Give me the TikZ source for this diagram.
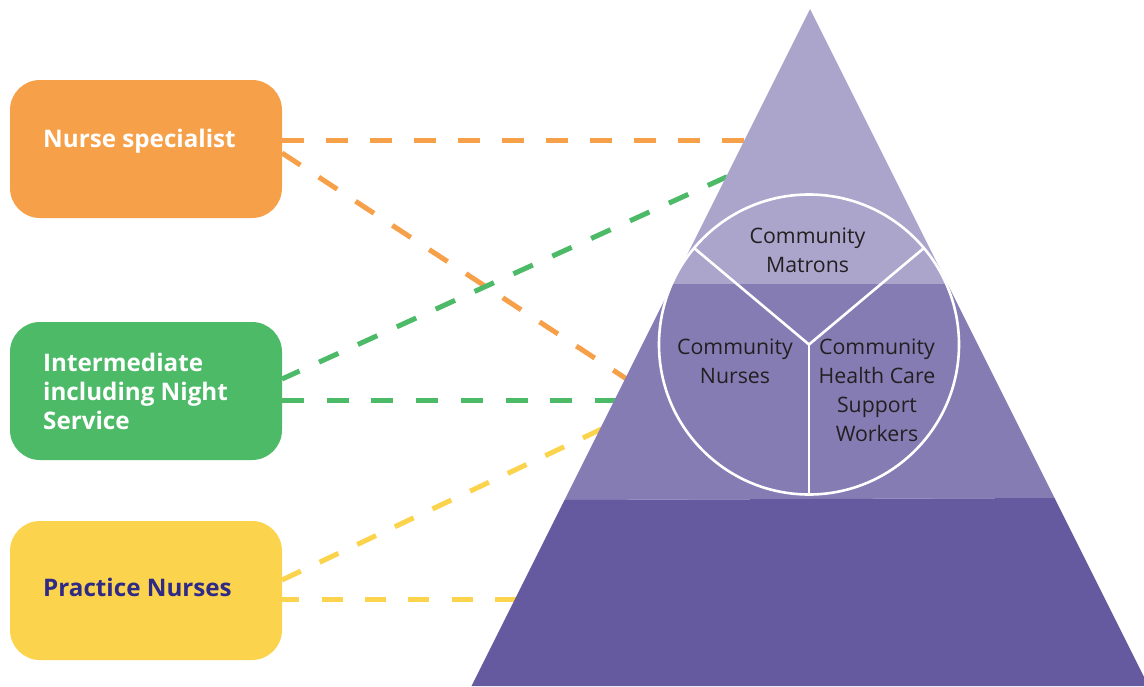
\documentclass[tikz,border=0pt]{standalone}
\usepackage{fontspec}
\setmainfont{Open Sans}
\definecolor{orangebox}{HTML}{F7A04A}
\definecolor{greenbox}{HTML}{4DBA68}
\definecolor{yellowbox}{HTML}{FCD34C}
\definecolor{darkblue}{HTML}{2E2A86}
\definecolor{bandtop}{HTML}{ABA5CC}
\definecolor{bandmid}{HTML}{857CB4}
\definecolor{bandlow}{HTML}{655A9F}
\definecolor{inktext}{HTML}{231F20}
\tikzset{
  rolebox/.style={rounded corners=30pt},
  % base anchor of a multi-line node sits on its last line
  roletext/.style={anchor=base west, align=left, font=\bfseries\fontsize{24.2}{28.8}\selectfont,
    inner sep=0pt},
  link/.style={line width=5pt},
  celltext/.style={anchor=base, align=center, font=\fontsize{21.3}{29.2}\selectfont,
    text=inktext, inner sep=0pt},
  divider/.style={white, line width=2.6pt},
}
\begin{document}
\begin{tikzpicture}[x=1pt, y=-1pt]
\useasboundingbox (0,0) rectangle (1144,686);

% connector start points on the group boxes
\coordinate (nsA) at (282,140.5);
\coordinate (nsB) at (282,153);
\coordinate (imA) at (282,379);
\coordinate (imB) at (282,400.5);
\coordinate (pnA) at (282,580);
\coordinate (pnB) at (282,599);
% connector ends, just inside the pyramid edge
\coordinate (tNsA) at (750,140.5);
\coordinate (tNsB) at (632,382.5);
\coordinate (tImA) at (733,174);
\coordinate (tImB) at (620,400.5);
\coordinate (tPnA) at (606,427);
\coordinate (tPnB) at (521,599);

\draw[link, orangebox, dash pattern=on 22pt off 22pt] (nsA) -- (tNsA);
\draw[link, orangebox, dash pattern=on 22pt off 22pt] (nsB) -- (tNsB);
\draw[link, greenbox, dash pattern=on 21.3pt off 21.4pt, dash phase=2pt] (imA) -- (tImA);
\draw[link, greenbox, dash pattern=on 22pt off 22.7pt] (imB) -- (tImB);
\draw[link, yellowbox, dash pattern=on 20.8pt off 20.8pt] (pnA) -- (tPnA);
\draw[link, yellowbox, dash pattern=on 21pt off 22.3pt, dash phase=3.6pt] (pnB) -- (tPnB);

% staff groups
\path[rolebox, fill=orangebox] (10,80) rectangle (282,218) coordinate (nsC);
\path[rolebox, fill=greenbox] (10,322) rectangle (282,460) coordinate (imC);
\path[rolebox, fill=yellowbox] (10,521) rectangle (282,660) coordinate (pnC);

\node[roletext, text=white] (nsT) at (43,147.7) {Nurse specialist};
\node[roletext, text=white] (imT) at (43,429.3) {Intermediate\\including Night\\Service};
\node[roletext, text=darkblue] (pnT) at (43,596) {Practice Nurses};

% pyramid in three bands
\begin{scope}
\clip (0,0) rectangle (1144,686);
\fill[bandtop] (810,9) -- (672.5,284) -- (947.5,284) -- cycle;
\fill[bandmid] (672.5,284) -- (947.5,284) -- (1054.5,498) -- (564.5,500) -- cycle;
\fill[bandlow] (564.5,500) -- (1054.5,498) -- (1148.5,686) -- (471.5,686) -- cycle;
\end{scope}

% circle split into three
\node[circle, draw=white, line width=2.6pt, minimum size=300pt, inner sep=0pt, outer sep=0pt] (circ) at (809,344.5) {};
\coordinate (hub) at (809,344.5);
\draw[divider] (hub) -- (circ.140);
\draw[divider] (hub) -- (circ.40);
\draw[divider] (hub) -- (circ.270);

\node[celltext] (cm) at (807.5,272.7) {Community\\Matrons};
\node[celltext] (cn) at (735,383.3) {Community\\Nurses};
\node[celltext] (hc) at (877,441.7) {Community\\Health Care\\Support\\Workers};
\end{tikzpicture}
\end{document}
